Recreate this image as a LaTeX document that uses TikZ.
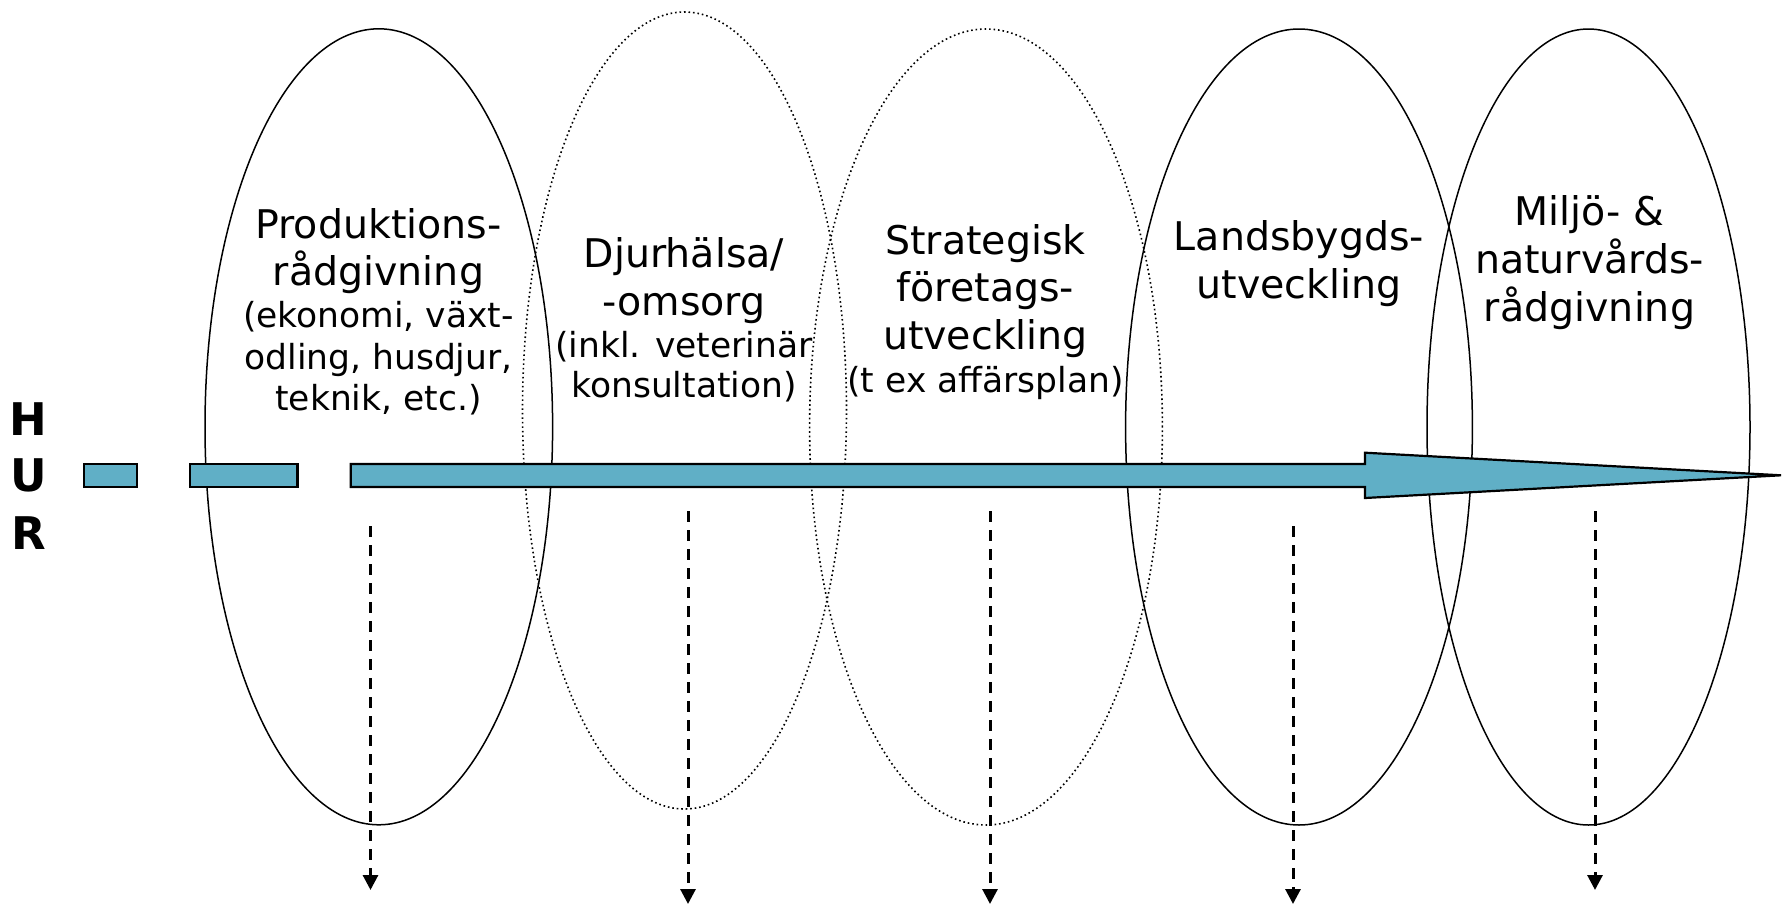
\documentclass[tikz,border=0pt]{standalone}
\usepackage{fontspec}
\setmainfont{DejaVu Sans}
\usetikzlibrary{shapes.geometric,arrows.meta}
\definecolor{arrowblue}{RGB}{96,175,198}
\begin{document}
\begin{tikzpicture}[x=1pt,y=-1pt,
  solidell/.style={ellipse, draw, line width=1.5pt, inner sep=0pt},
  dottedell/.style={ellipse, draw, line width=1.6pt, dash pattern=on 1.6pt off 2.9pt, inner sep=0pt},
  mainlbl/.style={anchor=base, inner sep=0pt, font=\fontsize{39.5}{47}\selectfont},
  sublbl/.style={anchor=base, inner sep=0pt, font=\fontsize{34.5}{42}\selectfont},
  hurlbl/.style={anchor=base, inner sep=0pt, font=\fontsize{45}{57}\selectfont\bfseries},
  bandpart/.style={draw, line width=2.2pt, fill=arrowblue},
  downarrow/.style={line width=3pt, dash pattern=on 11pt off 8pt, -{Triangle[width=15pt,length=15pt]}}]
\useasboundingbox (0,0) rectangle (1783,905);

% ellipses
\node[solidell, minimum width=347.6pt, minimum height=796pt] (e1) at (378.8,426.8) {};
\node[dottedell, minimum width=324pt, minimum height=797pt] (e2) at (684.5,410.5) {};
\node[dottedell, minimum width=352.8pt, minimum height=796pt] (e3) at (986,427) {};
\node[solidell, minimum width=346.8pt, minimum height=796pt] (e4) at (1299,427) {};
\node[solidell, minimum width=323pt, minimum height=796pt] (e5) at (1588.5,427) {};

% time arrow
\draw[bandpart] (83.8,464) rectangle (137,487);
\draw[bandpart] (190,464) rectangle (297.4,487);
\draw[bandpart] (350.7,464) -- (1365,464) -- (1365,452.7) -- (1781,475.3) -- (1365,498) -- (1365,487) -- (350.7,487) -- cycle;

% dashed arrows
\coordinate (d1s) at (370.5,526); \coordinate (d1e) at (370.5,890);
\coordinate (d2s) at (688,511);   \coordinate (d2e) at (688,904);
\coordinate (d3s) at (990,511);   \coordinate (d3e) at (990,904);
\coordinate (d4s) at (1293,526);  \coordinate (d4e) at (1293,904);
\coordinate (d5s) at (1595,511);  \coordinate (d5e) at (1595,890);
\draw[downarrow] (d1s) -- (d1e);
\draw[downarrow] (d2s) -- (d2e);
\draw[downarrow] (d3s) -- (d3e);
\draw[downarrow] (d4s) -- (d4e);
\draw[downarrow] (d5s) -- (d5e);

% HUR
\node[hurlbl] (h) at (28.7,435) {H};
\node[hurlbl] (u) at (28.7,491) {U};
\node[hurlbl] (r) at (28.7,549) {R};

% labels ellipse 1
\node[mainlbl] (t1a) at (378.5,238.2) {Produktions-};
\node[mainlbl] (t1b) at (378.5,285.3) {rådgivning};
\node[sublbl] (t1c) at (378.5,327) {(ekonomi, växt-};
\node[sublbl] (t1d) at (378.5,369) {odling, husdjur,};
\node[sublbl] (t1e) at (378.5,410.5) {teknik, etc.)};
% labels ellipse 2
\node[mainlbl] (t2a) at (684,267) {Djurhälsa/};
\node[mainlbl] (t2b) at (684,315.7) {-omsorg};
\node[sublbl] (t2c) at (684,357) {(inkl. veterinär};
\node[sublbl] (t2d) at (684,397.8) {konsultation)};
% labels ellipse 3
\node[mainlbl] (t3a) at (985.5,254.3) {Strategisk};
\node[mainlbl] (t3b) at (985.5,301.4) {företags-};
\node[mainlbl] (t3c) at (985.5,349) {utveckling};
\node[sublbl] (t3d) at (985.5,392) {(t ex affärsplan)};
% labels ellipse 4
\node[mainlbl] (t4a) at (1299,250.9) {Landsbygds-};
\node[mainlbl] (t4b) at (1299,298.5) {utveckling};
% labels ellipse 5
\node[mainlbl] (t5a) at (1589.5,225.6) {Miljö- \&};
\node[mainlbl] (t5b) at (1589.5,273.8) {naturvårds-};
\node[mainlbl] (t5c) at (1589.5,321.5) {rådgivning};
\end{tikzpicture}
\end{document}
